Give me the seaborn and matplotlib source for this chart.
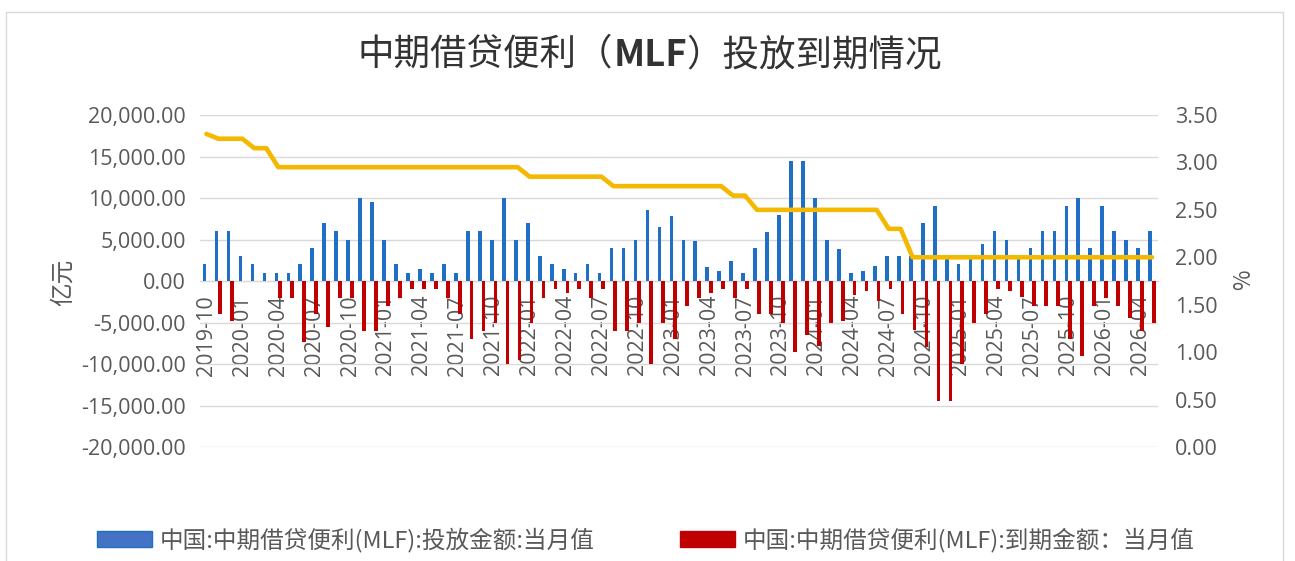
import numpy as np
import pandas as pd
import matplotlib
matplotlib.use('Agg')
import matplotlib.pyplot as plt
import matplotlib.patches as mpatches
from matplotlib.ticker import FuncFormatter, MultipleLocator, FixedLocator
import seaborn as sns

# ── Data (亿元 / %) ──────────────────────────────────────────
months = pd.period_range('2019-10', '2026-05', freq='M').strftime('%Y-%m').tolist()

issue = [2000, 6000, 6000,
         3000, 2000, 1000, 1000, 1000, 2000, 4000, 7000, 6000, 5000, 10000, 9500,
         5000, 2000, 1000, 1500, 1000, 2000, 1000, 6000, 6000, 5000, 10000, 5000,
         7000, 3000, 2000, 1500, 1000, 2000, 1000, 4000, 4000, 5000, 8500, 6500,
         7800, 5000, 4800, 1700, 1250, 2400, 1000, 4000, 5900, 7900, 14500, 14500,
         10000, 5000, 3900, 1000, 1250, 1850, 3000, 3000, 3000, 7000, 9000, 3000,
         2000, 3000, 4500, 6000, 5000, 3000, 4000, 6000, 6000, 9000, 10000, 4000,
         9000, 6000, 5000, 4000, 6000]

mature = [0, -4000, -4800,
          0, 0, 0, -2000, -2000, -7400, -4000, -5600, -2000, -2000, -6000, -6000,
          -3000, -2000, -1000, -1000, -1000, -2000, -4000, -7000, -6000, -5000, -10000, -9500,
          -5000, -2000, -1000, -1500, -1000, -2000, -1000, -6000, -6000, -5000, -10000, -5000,
          -7000, -3000, -2000, -1500, -1000, -2000, -1000, -4000, -4000, -5000, -8500, -6500,
          -7800, -5000, -4800, -1700, -1250, -2400, -1000, -4000, -5900, -7900, -14500, -14500,
          -10000, -5000, -4000, -1000, -1250, -1900, -3000, -3000, -3000, -7000, -9000, -3000,
          -2000, -3000, -4500, -6000, -5000]

rate = [3.30, 3.25, 3.25,
        3.25, 3.15, 3.15, 2.95, 2.95, 2.95, 2.95, 2.95, 2.95, 2.95, 2.95, 2.95,
        2.95, 2.95, 2.95, 2.95, 2.95, 2.95, 2.95, 2.95, 2.95, 2.95, 2.95, 2.95,
        2.85, 2.85, 2.85, 2.85, 2.85, 2.85, 2.85, 2.75, 2.75, 2.75, 2.75, 2.75,
        2.75, 2.75, 2.75, 2.75, 2.75, 2.65, 2.65, 2.50, 2.50, 2.50, 2.50, 2.50,
        2.50, 2.50, 2.50, 2.50, 2.50, 2.50, 2.30, 2.30, 2.00, 2.00, 2.00, 2.00,
        2.00, 2.00, 2.00, 2.00, 2.00, 2.00, 2.00, 2.00, 2.00, 2.00, 2.00, 2.00,
        2.00, 2.00, 2.00, 2.00, 2.00]

LABEL_ISSUE = '中国:中期借贷便利(MLF):投放金额:当月值'
LABEL_MATURE = '中国:中期借贷便利(MLF):到期金额：当月值'

BLUE = '#1F6FC4'
RED = '#C00000'
GOLD = '#F5B800'
GREY = '#595959'
CJK = ['Noto Sans CJK SC', 'DejaVu Sans']

# ── Style ────────────────────────────────────────────────────
sns.set_style('white')
plt.rcParams['font.family'] = ['Open Sans', 'Noto Sans CJK SC', 'DejaVu Sans']

n = len(months)
df = pd.DataFrame({
    'month': months * 2,
    'value': issue + mature,
    'series': [LABEL_ISSUE] * n + [LABEL_MATURE] * n,
})

fig = plt.figure(figsize=(12.95, 5.61), dpi=100)
ax = fig.add_axes([0.1548, 0.2032, 0.7394, 0.5918])

sns.barplot(data=df, x='month', y='value', hue='series',
            hue_order=[LABEL_ISSUE, LABEL_MATURE], palette=[BLUE, RED],
            width=0.62, gap=0, dodge=True, saturation=1, linewidth=0,
            legend=False, ax=ax)

ax2 = ax.twinx()
sns.lineplot(x=np.arange(n), y=rate, ax=ax2, color=GOLD, linewidth=3.3)

# ── Left axis ────────────────────────────────────────────────
ax.set_xlim(-0.5, n - 0.5)
ax.set_ylim(-20000, 20000)
ax.yaxis.set_major_locator(MultipleLocator(5000))
ax.yaxis.set_major_formatter(FuncFormatter(lambda v, _: f'{v:,.2f}'))
ax.grid(axis='y', color='#D9D9D9', linewidth=1)
ax.grid(axis='x', visible=False)
ax.set_axisbelow(True)
ax.set_xlabel('')
ax.set_ylabel('')
for s in ['left', 'right', 'top']:
    ax.spines[s].set_visible(False)
ax.spines['bottom'].set_position(('data', 0))
ax.spines['bottom'].set_color('#BFBFBF')
ax.spines['bottom'].set_zorder(0.5)

ax.set_xticks(range(0, n, 3))
ax.set_xticklabels(months[::3], rotation=90, va='top', ha='center')
ax.xaxis.set_minor_locator(FixedLocator(np.arange(-0.5, n, 3)))
ax.tick_params(axis='x', which='major', length=0, pad=10, labelsize=15.5, labelcolor=GREY)
ax.tick_params(axis='x', which='minor', length=6, width=1, color='#BFBFBF')
ax.tick_params(axis='y', length=0, pad=10.5, labelsize=15.5, labelcolor=GREY)

# ── Right axis ───────────────────────────────────────────────
ax2.set_ylim(0, 3.5)
ax2.yaxis.set_major_locator(MultipleLocator(0.5))
ax2.yaxis.set_major_formatter(FuncFormatter(lambda v, _: f'{v:.2f}'))
ax2.grid(False)
ax2.set_ylabel('')
for s in ax2.spines.values():
    s.set_visible(False)
ax2.tick_params(axis='y', length=0, pad=12, labelsize=15.5, labelcolor=GREY)
ax.set_xlim(-0.5, n - 0.5)

# ── Axis titles ──────────────────────────────────────────────
fig.text(63 / 1295, 1 - 282 / 561, '亿元', rotation=90, ha='center', va='center',
         fontsize=17, color=GREY, family=CJK)
fig.text(1244 / 1295, 1 - 280 / 561, '%', rotation=90, ha='center', va='center',
         fontsize=16, color=GREY, family=CJK)

# ── Title (MLF in bold) ──────────────────────────────────────
renderer = fig.canvas.get_renderer()
parts = [('中期借贷便利（', 'normal'), ('MLF', 'bold'), ('）投放到期情况', 'normal')]
texts = [fig.text(0, 1 - 55 / 561, p, fontsize=26.3, color='#333333', family=CJK,
                  weight=w, va='center', ha='left') for p, w in parts]
widths = [t.get_window_extent(renderer).width for t in texts]
x0 = 650 - sum(widths) / 2
for t, w in zip(texts, widths):
    t.set_x(x0 / 1295)
    x0 += w

# ── Legend ───────────────────────────────────────────────────
handles = [mpatches.Patch(facecolor='#4472C4', edgecolor=BLUE, label=LABEL_ISSUE),
           mpatches.Patch(facecolor=RED, edgecolor=RED, label=LABEL_MATURE)]
leg = fig.legend(handles=handles, loc='center', bbox_to_anchor=(646 / 1295, 1 - 540 / 561),
                 ncol=2, frameon=False, handlelength=2.33, handleheight=0.7,
                 handletextpad=0.34, columnspacing=3.6,
                 prop={'family': CJK, 'size': 17})
for t in leg.get_texts():
    t.set_color(GREY)

# ── Outer frame ──────────────────────────────────────────────
fig.patches.append(mpatches.Rectangle((6 / 1295, -0.05), 1277 / 1295, 1.05 - 12 / 561,
                                      transform=fig.transFigure, fill=False,
                                      edgecolor='#D9D9D9', linewidth=1))

fig.savefig('out.png', dpi=100)
